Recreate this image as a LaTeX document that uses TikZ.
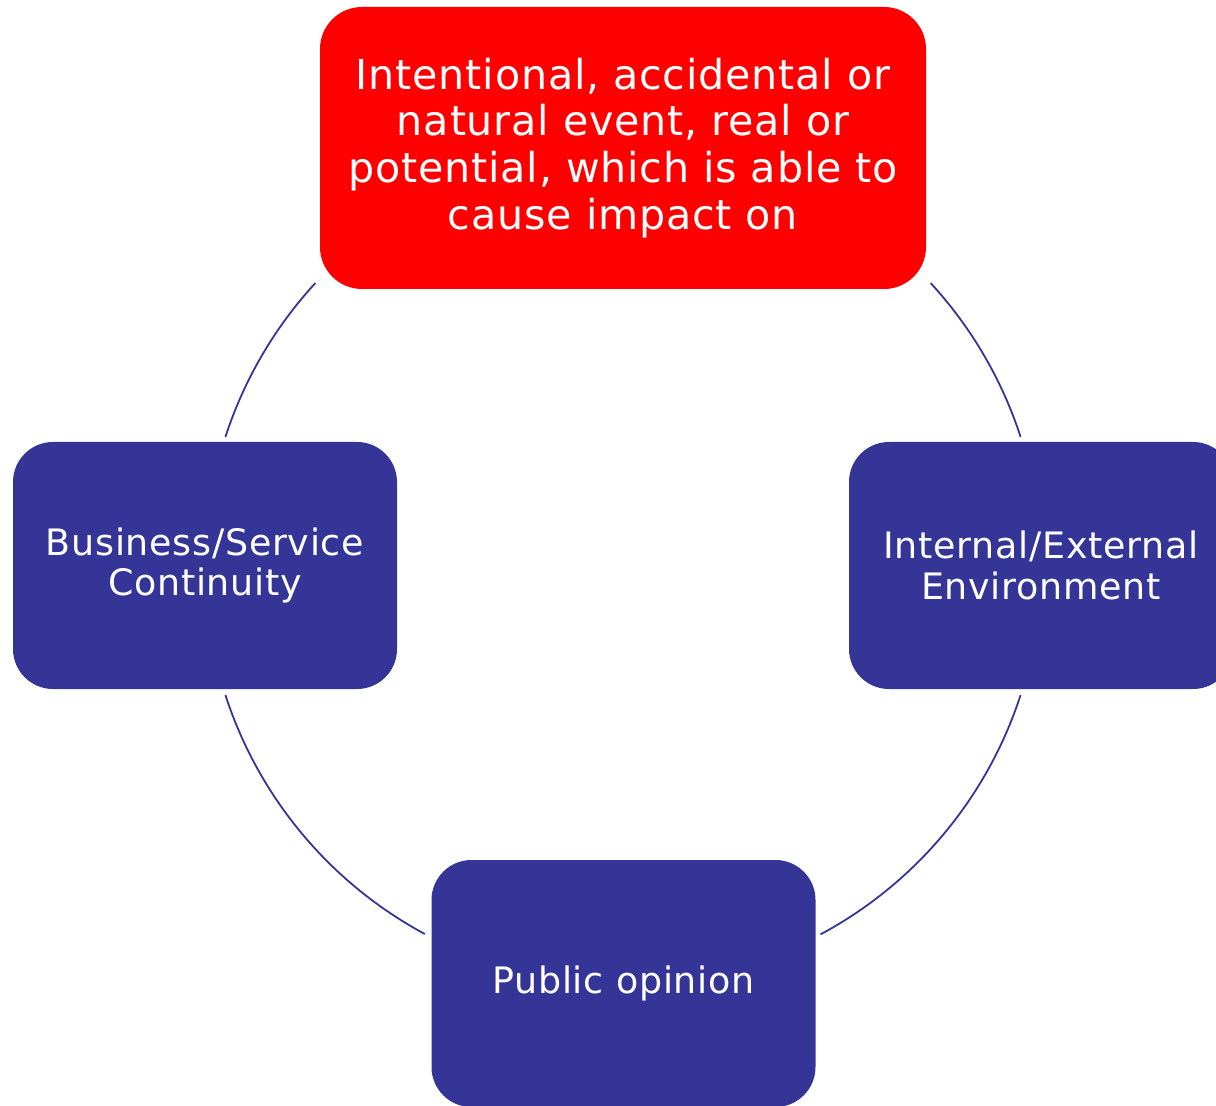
\documentclass[tikz,border=0pt]{standalone}
\usepackage{fontspec}
\setmainfont{DejaVu Sans}[LetterSpace=2]
\definecolor{cyclered}{HTML}{FF0000}
\definecolor{cycleblue}{HTML}{353598}
\begin{document}
\begin{tikzpicture}[x=0.5pt,y=0.5pt,
    threat/.style={fill=cyclered, rounded corners=21pt, minimum width=303pt, minimum height=141pt,
        inner sep=0pt, text=white, align=center, font=\fontsize{20.6pt}{23.4pt}\selectfont},
    target/.style={fill=cycleblue, rounded corners=20pt, minimum width=192pt, minimum height=123.5pt,
        inner sep=0pt, text=white, align=center, font=\fontsize{18.2pt}{20.4pt}\selectfont},
    ring/.style={draw=cycleblue, line width=0.9pt}]
    \useasboundingbox (0,0) rectangle (1216,1105);
    \coordinate (hub) at (623,539);
    \foreach \a/\b in {137.4/162, 42.6/18, 198/241.7, 342/298.2}
        \draw[ring] (hub) ++(\a:418) arc[start angle=\a, end angle=\b, radius=418];
    \node[threat] (event) at (623,957) {Intentional, accidental or\\natural event, real or\\potential, which is able to\\cause impact on};
    \node[target] (business) at (205,539.5) {Business/Service\\Continuity};
    \node[target] (environment) at (1041,539.5) {Internal/External\\Environment};
    \node[target] (opinion) at (623.5,121.5) {Public opinion};
\end{tikzpicture}
\end{document}
